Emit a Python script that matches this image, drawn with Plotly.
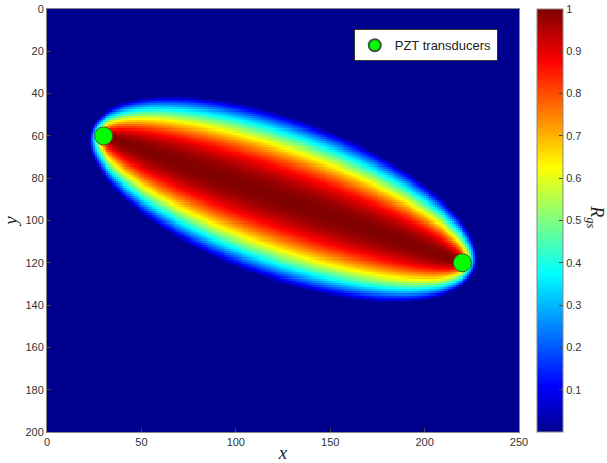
import numpy as np
import plotly.graph_objects as go

# Transducer positions (x, y)
pzt_x = [30, 220]
pzt_y = [60, 120]
beta = 1.072  # size-scaling parameter of the elliptical influence zone

x_ticks = [0, 50, 100, 150, 200, 250]
y_ticks = [0, 20, 40, 60, 80, 100, 120, 140, 160, 180, 200]
cb_ticks = [0.1, 0.2, 0.3, 0.4, 0.5, 0.6, 0.7, 0.8, 0.9, 1]

# grid
xs = np.arange(0, 251, 1.0)
ys = np.arange(0, 201, 1.0)
X, Y = np.meshgrid(xs, ys)
d1 = np.hypot(X - pzt_x[0], Y - pzt_y[0])
d2 = np.hypot(X - pzt_x[1], Y - pzt_y[1])
d = np.hypot(pzt_x[1] - pzt_x[0], pzt_y[1] - pzt_y[0])
RD = (d1 + d2) / d
Z = np.where(RD < beta, (beta - RD) / (beta - 1), 0.0)

jet = [
    [0.0, "rgb(0,0,143)"],
    [0.11, "rgb(0,0,255)"],
    [0.125, "rgb(0,16,255)"],
    [0.375, "rgb(0,255,255)"],
    [0.625, "rgb(255,255,0)"],
    [0.875, "rgb(255,0,0)"],
    [1.0, "rgb(128,0,0)"],
]

fig = go.Figure()
fig.add_trace(go.Heatmap(
    x=xs, y=ys, z=Z, zmin=0, zmax=1, colorscale=jet,
    showscale=True, hoverinfo="skip",
    colorbar=dict(
        x=1.038, xanchor="left", xpad=0, ypad=0,
        y=0.5, yanchor="middle", len=1, lenmode="fraction",
        thickness=26, thicknessmode="pixels",
        outlinecolor="#888", outlinewidth=1,
        tickvals=cb_ticks, ticktext=[str(v) for v in cb_ticks],
        ticks="inside", ticklen=4, tickcolor="#444",
        tickfont=dict(family="Liberation Sans", size=11, color="#333"),
    ),
))
fig.add_trace(go.Scatter(
    x=pzt_x, y=pzt_y, mode="markers", name="PZT transducers",
    marker=dict(color="#00ff00", size=18, line=dict(color="#3a5a3a", width=1)),
))

fig.update_layout(
    width=607, height=463,
    margin=dict(l=47, r=88, t=9, b=31, autoexpand=False),
    paper_bgcolor="white", plot_bgcolor="white",
    showlegend=True,
    legend=dict(
        x=0.955, xanchor="right", y=0.952, yanchor="top",
        bgcolor="white", bordercolor="#333", borderwidth=1,
        font=dict(family="Liberation Sans", size=13, color="#222"),
        itemsizing="constant", itemwidth=30,
    ),
    xaxis=dict(
        range=[0, 250], tickvals=x_ticks, ticks="inside", ticklen=4,
        tickcolor="#444", showgrid=False, zeroline=False,
        showline=True, linecolor="#888", mirror=True, automargin=False,
        tickfont=dict(family="Liberation Sans", size=11, color="#333"),
        title=dict(text="<i>x</i>", standoff=8,
                   font=dict(family="Liberation Serif", size=19, color="#222")),
    ),
    yaxis=dict(
        range=[200, 0], tickvals=y_ticks, ticks="inside", ticklen=4,
        tickcolor="#444", showgrid=False, zeroline=False,
        showline=True, linecolor="#888", mirror=True, automargin=False,
        tickfont=dict(family="Liberation Sans", size=11, color="#333"),
        title=dict(text="<i>y</i>", standoff=6,
                   font=dict(family="Liberation Serif", size=19, color="#222")),
    ),
    annotations=[dict(
        text="<i>R</i><sub><i>gs</i></sub>", xref="paper", yref="paper",
        x=1.163, y=0.508, xanchor="center", yanchor="middle",
        showarrow=False, textangle=90,
        font=dict(family="Liberation Serif", size=18, color="#222"),
    )],
)

fig.write_html("out.html")
